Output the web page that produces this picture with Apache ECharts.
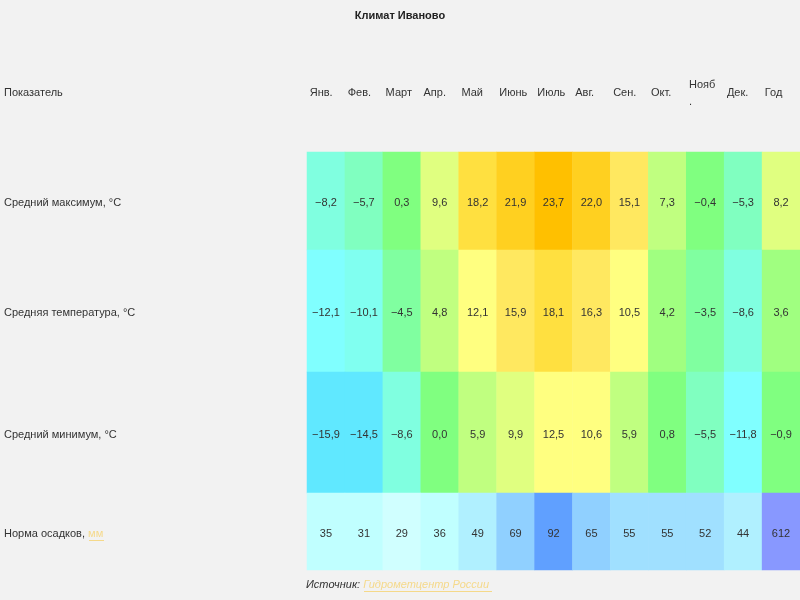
<!DOCTYPE html>
<html>
<head>
<meta charset="utf-8">
<script src="https://cdn.jsdelivr.net/npm/echarts@6/dist/echarts.min.js"></script>
<style>
  html, body { margin: 0; padding: 0; background: #f2f2f2; }
  #chart { width: 800px; height: 600px; }
</style>
</head>
<body>
<div id="chart"></div>
<script>
const months = ['Янв.', 'Фев.', 'Март', 'Апр.', 'Май', 'Июнь', 'Июль', 'Авг.', 'Сен.', 'Окт.', 'Нояб.', 'Дек.', 'Год'];
const rowLabels = ['Средний максимум, °C', 'Средняя температура, °C', 'Средний минимум, °C', 'Норма осадков, {u|мм}'];
const maxTemp = [-8.2, -5.7, 0.3, 9.6, 18.2, 21.9, 23.7, 22.0, 15.1, 7.3, -0.4, -5.3, 8.2];
const meanTemp = [-12.1, -10.1, -4.5, 4.8, 12.1, 15.9, 18.1, 16.3, 10.5, 4.2, -3.5, -8.6, 3.6];
const minTemp = [-15.9, -14.5, -8.6, 0.0, 5.9, 9.9, 12.5, 10.6, 5.9, 0.8, -5.5, -11.8, -0.9];
const precip = [35, 31, 29, 36, 49, 69, 92, 65, 55, 55, 52, 44, 612];

const chart = echarts.init(document.getElementById('chart'));

const font = 'Liberation Sans, Arial, sans-serif';
const linkColor = '#f5d98a';

// row bands: header, 3 temperature rows, precipitation
const bands = [
  { top: 30, height: 122 },
  { top: 152, height: 98 },
  { top: 250, height: 122 },
  { top: 372, height: 121 },
  { top: 493, height: 77 }
];
const yNames = ['Показатель'].concat(rowLabels);

const fmtTemp = v => (v < 0 ? '\u2212' : '') + Math.abs(v).toFixed(1).replace('.', ',');

const grids = bands.map(b => ({ left: 307, right: 0, top: b.top, height: b.height }));
const xAxes = bands.map((b, i) => ({
  type: 'category', gridIndex: i, data: months, show: false
}));
const yAxes = yNames.map((name, i) => ({
  type: 'category', gridIndex: i, data: [name],
  axisLine: { show: false }, axisTick: { show: false }, splitLine: { show: false },
  axisLabel: {
    align: 'left', margin: 303, color: '#333', fontSize: 11, fontFamily: font,
    padding: [4, 0, 0, 0],
    rich: { u: { color: linkColor, fontSize: 11, fontFamily: font } }
  }
}));

const cellLabel = {
  show: true, color: '#333', fontSize: 11, fontFamily: font, offset: [0, 2]
};

const tempRow = (vals, i) => ({
  type: 'heatmap', xAxisIndex: i, yAxisIndex: i,
  data: vals.map((v, j) => [j, 0, v]),
  label: Object.assign({ formatter: p => fmtTemp(p.value[2]) }, cellLabel),
  emphasis: { disabled: true }
});

const series = [
  {
    // header cells: month names, left aligned, "Нояб." wraps in its narrow cell
    type: 'heatmap', xAxisIndex: 0, yAxisIndex: 0,
    data: months.map((m, j) => [j, 0, 0]),
    itemStyle: { color: 'rgba(0,0,0,0)' },
    label: {
      show: true, position: 'insideLeft', distance: 3, color: '#333', fontSize: 11, fontFamily: font,
      lineHeight: 17, offset: [0, 2],
      formatter: p => {
        const m = months[p.value[0]];
        return m.length > 4 ? m.slice(0, 4) + '\n' + m.slice(4) : m;
      }
    },
    emphasis: { disabled: true }
  },
  tempRow(maxTemp, 1),
  tempRow(meanTemp, 2),
  tempRow(minTemp, 3),
  {
    type: 'heatmap', xAxisIndex: 4, yAxisIndex: 4,
    data: precip.slice(0, 12).map((v, j) => [j, 0, v]),
    label: Object.assign({ formatter: p => String(p.value[2]) }, cellLabel),
    emphasis: { disabled: true }
  },
  {
    type: 'heatmap', xAxisIndex: 4, yAxisIndex: 4,
    data: [[12, 0, precip[12]]],
    itemStyle: { color: '#8898ff' },
    label: Object.assign({ formatter: p => String(p.value[2]) }, cellLabel),
    emphasis: { disabled: true }
  }
];

chart.setOption({
  backgroundColor: '#f2f2f2',
  animation: false,
  title: {
    text: 'Климат Иваново', left: 'center', top: 5,
    textStyle: { fontSize: 11, fontWeight: 'bold', color: '#222', fontFamily: font }
  },
  grid: grids,
  xAxis: xAxes,
  yAxis: yAxes,
  visualMap: [
    {
      type: 'piecewise', show: false, seriesIndex: [1, 2, 3], dimension: 2,
      pieces: [
        { lt: -13, color: '#60e8ff' },
        { gte: -13, lt: -11, color: '#80ffff' },
        { gte: -11, lt: -9, color: '#80fff0' },
        { gte: -9, lt: -7, color: '#80ffe0' },
        { gte: -7, lt: -5, color: '#80ffc0' },
        { gte: -5, lt: -2, color: '#80ffa0' },
        { gte: -2, lt: 2.5, color: '#80ff80' },
        { gte: 2.5, lt: 4.5, color: '#a0ff80' },
        { gte: 4.5, lt: 7.5, color: '#c0ff80' },
        { gte: 7.5, lt: 10, color: '#e0ff80' },
        { gte: 10, lt: 13, color: '#ffff80' },
        { gte: 13, lt: 17, color: '#ffe860' },
        { gte: 17, lt: 20, color: '#ffe040' },
        { gte: 20, lt: 23, color: '#ffd020' },
        { gte: 23, color: '#ffc000' }
      ]
    },
    {
      type: 'piecewise', show: false, seriesIndex: 4, dimension: 2,
      pieces: [
        { lt: 30, color: '#d0ffff' },
        { gte: 30, lt: 40, color: '#c0ffff' },
        { gte: 40, lt: 50, color: '#b0f0ff' },
        { gte: 50, lt: 60, color: '#a0e0ff' },
        { gte: 60, lt: 80, color: '#90d0ff' },
        { gte: 80, color: '#60a0ff' }
      ]
    }
  ],
  graphic: [
    {
      type: 'text', left: 306, top: 579,
      style: {
        text: '{a|Источник: }{b|Гидрометцентр России}',
        rich: {
          a: { fontSize: 11, fontStyle: 'italic', fill: '#333', fontFamily: font },
          b: { fontSize: 11, fontStyle: 'italic', fill: linkColor, fontFamily: font }
        }
      }
    },
    { type: 'line', shape: { x1: 364, y1: 591.5, x2: 492, y2: 591.5 }, style: { stroke: linkColor, lineWidth: 1 } },
    { type: 'line', shape: { x1: 89, y1: 540.5, x2: 104, y2: 540.5 }, style: { stroke: linkColor, lineWidth: 1 } }
  ],
  series: series
});
</script>
</body>
</html>
